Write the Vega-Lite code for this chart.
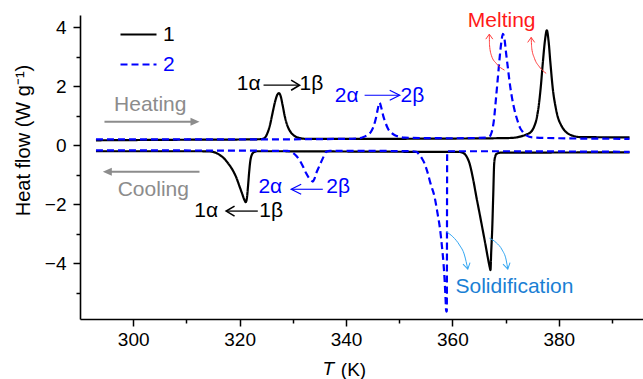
{
  "$schema": "https://vega.github.io/schema/vega-lite/v6.json",
  "width": 563,
  "height": 304,
  "autosize": "none",
  "padding": {"left": 80, "top": 15, "right": 0, "bottom": 60},
  "background": "white",
  "config": {
    "font": "Liberation Sans",
    "view": {"stroke": null},
    "axis": {
      "grid": false,
      "domainColor": "#000000",
      "domainWidth": 1.6,
      "tickColor": "#000000",
      "tickWidth": 1.5,
      "labelColor": "#000000",
      "labelFontSize": 19,
      "labelOverlap": false,
      "titleFontSize": 19,
      "titleFontWeight": "normal",
      "titleColor": "#000000"
    }
  },
  "resolve": {"axis": {"y": "independent"}},
  "datasets": {
    "curves": [
      {"s":"1","r":"h","T":293,"hf":0.17},{"s":"1","r":"h","T":310,"hf":0.19},{"s":"1","r":"h","T":322,"hf":0.2},{"s":"1","r":"h","T":324.0,"hf":0.21},{"s":"1","r":"h","T":324.7,"hf":0.25},{"s":"1","r":"h","T":325.2,"hf":0.4},{"s":"1","r":"h","T":325.7,"hf":0.68},{"s":"1","r":"h","T":326.2,"hf":1.1},{"s":"1","r":"h","T":326.7,"hf":1.5},{"s":"1","r":"h","T":327.1,"hf":1.72},{"s":"1","r":"h","T":327.4,"hf":1.77},{"s":"1","r":"h","T":327.7,"hf":1.68},{"s":"1","r":"h","T":328.1,"hf":1.35},{"s":"1","r":"h","T":328.5,"hf":0.98},{"s":"1","r":"h","T":329.0,"hf":0.66},{"s":"1","r":"h","T":329.6,"hf":0.45},{"s":"1","r":"h","T":330.3,"hf":0.32},{"s":"1","r":"h","T":331.2,"hf":0.25},{"s":"1","r":"h","T":332.5,"hf":0.22},{"s":"1","r":"h","T":345,"hf":0.22},{"s":"1","r":"h","T":360,"hf":0.23},{"s":"1","r":"h","T":368,"hf":0.24},{"s":"1","r":"h","T":371,"hf":0.25},{"s":"1","r":"h","T":373.2,"hf":0.32},{"s":"1","r":"h","T":374.3,"hf":0.4},{"s":"1","r":"h","T":374.8,"hf":0.46},{"s":"1","r":"h","T":375.4,"hf":0.65},{"s":"1","r":"h","T":375.8,"hf":0.88},{"s":"1","r":"h","T":376.2,"hf":1.3},{"s":"1","r":"h","T":376.6,"hf":1.95},{"s":"1","r":"h","T":377.0,"hf":2.8},{"s":"1","r":"h","T":377.4,"hf":3.55},{"s":"1","r":"h","T":377.75,"hf":3.9},{"s":"1","r":"h","T":378.1,"hf":3.5},{"s":"1","r":"h","T":378.4,"hf":2.85},{"s":"1","r":"h","T":378.9,"hf":1.88},{"s":"1","r":"h","T":379.4,"hf":1.3},{"s":"1","r":"h","T":379.8,"hf":0.97},{"s":"1","r":"h","T":380.4,"hf":0.7},{"s":"1","r":"h","T":381.1,"hf":0.5},{"s":"1","r":"h","T":381.9,"hf":0.38},{"s":"1","r":"h","T":382.7,"hf":0.32},{"s":"1","r":"h","T":384,"hf":0.28},{"s":"1","r":"h","T":393.3,"hf":0.27},
      {"s":"1","r":"c","T":293,"hf":-0.2},{"s":"1","r":"c","T":312,"hf":-0.2},{"s":"1","r":"c","T":314.5,"hf":-0.21},{"s":"1","r":"c","T":315.5,"hf":-0.25},{"s":"1","r":"c","T":316.3,"hf":-0.33},{"s":"1","r":"c","T":317.0,"hf":-0.43},{"s":"1","r":"c","T":317.8,"hf":-0.6},{"s":"1","r":"c","T":318.7,"hf":-0.84},{"s":"1","r":"c","T":319.4,"hf":-1.1},{"s":"1","r":"c","T":320.0,"hf":-1.4},{"s":"1","r":"c","T":320.5,"hf":-1.65},{"s":"1","r":"c","T":320.9,"hf":-1.85},{"s":"1","r":"c","T":321.15,"hf":-1.93},{"s":"1","r":"c","T":321.4,"hf":-1.75},{"s":"1","r":"c","T":321.6,"hf":-1.35},{"s":"1","r":"c","T":321.8,"hf":-0.9},{"s":"1","r":"c","T":322.0,"hf":-0.55},{"s":"1","r":"c","T":322.3,"hf":-0.32},{"s":"1","r":"c","T":322.7,"hf":-0.23},{"s":"1","r":"c","T":323.3,"hf":-0.2},{"s":"1","r":"c","T":340,"hf":-0.21},{"s":"1","r":"c","T":355,"hf":-0.22},{"s":"1","r":"c","T":361.0,"hf":-0.22},{"s":"1","r":"c","T":361.9,"hf":-0.25},{"s":"1","r":"c","T":362.6,"hf":-0.36},{"s":"1","r":"c","T":363.2,"hf":-0.6},{"s":"1","r":"c","T":363.9,"hf":-1.15},{"s":"1","r":"c","T":364.5,"hf":-1.74},{"s":"1","r":"c","T":365.1,"hf":-2.3},{"s":"1","r":"c","T":365.7,"hf":-2.87},{"s":"1","r":"c","T":366.2,"hf":-3.35},{"s":"1","r":"c","T":366.65,"hf":-3.8},{"s":"1","r":"c","T":367.0,"hf":-4.12},{"s":"1","r":"c","T":367.16,"hf":-4.23},{"s":"1","r":"c","T":367.3,"hf":-3.6},{"s":"1","r":"c","T":367.48,"hf":-2.87},{"s":"1","r":"c","T":367.67,"hf":-1.74},{"s":"1","r":"c","T":367.86,"hf":-0.61},{"s":"1","r":"c","T":368.05,"hf":-0.38},{"s":"1","r":"c","T":368.3,"hf":-0.29},{"s":"1","r":"c","T":369,"hf":-0.25},{"s":"1","r":"c","T":393.3,"hf":-0.24},
      {"s":"2","r":"h","T":293,"hf":0.2},{"s":"2","r":"h","T":320,"hf":0.2},{"s":"2","r":"h","T":340,"hf":0.22},{"s":"2","r":"h","T":342.5,"hf":0.24},{"s":"2","r":"h","T":343.3,"hf":0.28},{"s":"2","r":"h","T":344.0,"hf":0.35},{"s":"2","r":"h","T":344.7,"hf":0.46},{"s":"2","r":"h","T":345.2,"hf":0.65},{"s":"2","r":"h","T":345.6,"hf":0.9},{"s":"2","r":"h","T":346.0,"hf":1.25},{"s":"2","r":"h","T":346.3,"hf":1.45},{"s":"2","r":"h","T":346.6,"hf":1.3},{"s":"2","r":"h","T":347.0,"hf":1.0},{"s":"2","r":"h","T":347.5,"hf":0.73},{"s":"2","r":"h","T":347.9,"hf":0.56},{"s":"2","r":"h","T":348.5,"hf":0.43},{"s":"2","r":"h","T":349.1,"hf":0.35},{"s":"2","r":"h","T":350.0,"hf":0.29},{"s":"2","r":"h","T":351,"hf":0.26},{"s":"2","r":"h","T":360,"hf":0.24},{"s":"2","r":"h","T":366.3,"hf":0.26},{"s":"2","r":"h","T":367.0,"hf":0.3},{"s":"2","r":"h","T":367.4,"hf":0.45},{"s":"2","r":"h","T":367.8,"hf":0.85},{"s":"2","r":"h","T":368.2,"hf":1.6},{"s":"2","r":"h","T":368.6,"hf":2.4},{"s":"2","r":"h","T":368.9,"hf":3.0},{"s":"2","r":"h","T":369.2,"hf":3.5},{"s":"2","r":"h","T":369.5,"hf":3.78},{"s":"2","r":"h","T":369.8,"hf":3.6},{"s":"2","r":"h","T":370.1,"hf":3.12},{"s":"2","r":"h","T":370.45,"hf":2.6},{"s":"2","r":"h","T":370.75,"hf":2.15},{"s":"2","r":"h","T":371.2,"hf":1.62},{"s":"2","r":"h","T":371.7,"hf":1.18},{"s":"2","r":"h","T":372.2,"hf":0.86},{"s":"2","r":"h","T":372.7,"hf":0.6},{"s":"2","r":"h","T":373.3,"hf":0.44},{"s":"2","r":"h","T":373.9,"hf":0.34},{"s":"2","r":"h","T":375.1,"hf":0.27},{"s":"2","r":"h","T":380,"hf":0.24},{"s":"2","r":"h","T":393.3,"hf":0.22},
      {"s":"2","r":"c","T":293,"hf":-0.17},{"s":"2","r":"c","T":320,"hf":-0.18},{"s":"2","r":"c","T":329.0,"hf":-0.19},{"s":"2","r":"c","T":329.7,"hf":-0.22},{"s":"2","r":"c","T":330.5,"hf":-0.33},{"s":"2","r":"c","T":331.26,"hf":-0.5},{"s":"2","r":"c","T":332.0,"hf":-0.75},{"s":"2","r":"c","T":332.52,"hf":-0.95},{"s":"2","r":"c","T":333.0,"hf":-1.1},{"s":"2","r":"c","T":333.46,"hf":-1.19},{"s":"2","r":"c","T":333.76,"hf":-1.23},{"s":"2","r":"c","T":334.1,"hf":-1.12},{"s":"2","r":"c","T":334.4,"hf":-0.95},{"s":"2","r":"c","T":334.9,"hf":-0.74},{"s":"2","r":"c","T":335.34,"hf":-0.56},{"s":"2","r":"c","T":335.8,"hf":-0.38},{"s":"2","r":"c","T":336.28,"hf":-0.22},{"s":"2","r":"c","T":337,"hf":-0.19},{"s":"2","r":"c","T":345,"hf":-0.19},{"s":"2","r":"c","T":352.5,"hf":-0.2},{"s":"2","r":"c","T":353.2,"hf":-0.22},{"s":"2","r":"c","T":353.8,"hf":-0.32},{"s":"2","r":"c","T":354.3,"hf":-0.45},{"s":"2","r":"c","T":354.76,"hf":-0.61},{"s":"2","r":"c","T":355.3,"hf":-0.9},{"s":"2","r":"c","T":355.9,"hf":-1.3},{"s":"2","r":"c","T":356.64,"hf":-1.74},{"s":"2","r":"c","T":357.2,"hf":-2.3},{"s":"2","r":"c","T":357.7,"hf":-2.87},{"s":"2","r":"c","T":358.05,"hf":-3.45},{"s":"2","r":"c","T":358.33,"hf":-4.0},{"s":"2","r":"c","T":358.55,"hf":-4.6},{"s":"2","r":"c","T":358.7,"hf":-5.13},{"s":"2","r":"c","T":358.84,"hf":-5.64},{"s":"2","r":"c","T":358.95,"hf":-5.62},{"s":"2","r":"c","T":359.02,"hf":-0.2},{"s":"2","r":"c","T":365,"hf":-0.2},{"s":"2","r":"c","T":393.3,"hf":-0.22}
    ]
  },
  "layer": [
    {
      "data": {"name": "curves"},
      "mark": {"type": "line", "strokeWidth": 2.2, "interpolate": "monotone"},
      "encoding": {
        "x": {"field": "T", "type": "quantitative",
          "scale": {"domain": [290, 395.83], "nice": false, "zero": false},
          "axis": {"title": "(K)", "values": [300,310,320,330,340,350,360,370,380,390],
            "labelExpr": "abs(round(datum.value)) % 20 == 0 ? datum.label : ''",
            "tickSize": {"condition": {"test": "abs(round(datum.value)) % 20 == 0", "value": 7}, "value": 4},
            "labelPadding": 4, "titleX": 273, "titleY": 56, "titleBaseline": "alphabetic"}},
        "y": {"field": "hf", "type": "quantitative",
          "scale": {"domain": [-5.89, 4.42], "nice": false, "zero": false},
          "axis": {"orient": "left", "title": "Heat flow (W g⁻¹)", "values": [-4,-2,0,2,4],
            "tickSize": 7, "labelPadding": 7,
            "titleX": -51, "titleY": 125, "titleBaseline": "alphabetic", "titleAngle": -90, "titleFontSize": 20}},
        "color": {"field": "s", "type": "nominal",
          "scale": {"domain": ["1","2"], "range": ["#000000","#0000ff"]},
          "legend": {"title": null, "orient": "none", "legendX": 39, "legendY": 0, "symbolType": "stroke", "symbolSize": 1296, "symbolStrokeWidth": 2.2, "labelFontSize": 21, "labelOffset": 5, "rowPadding": -7, "padding": 0,
            "labelColor": {"expr": "datum.label === '2' ? '#0000ff' : '#000000'"}}},
        "strokeDash": {"field": "s", "type": "nominal",
          "scale": {"domain": ["1","2"], "range": [[1,0],[7,4]]},
          "legend": {"title": null, "orient": "none", "legendX": 39, "legendY": 0, "symbolType": "stroke", "symbolSize": 1296, "symbolStrokeWidth": 2.2, "labelFontSize": 21, "labelOffset": 5, "rowPadding": -7, "padding": 0,
            "labelColor": {"expr": "datum.label === '2' ? '#0000ff' : '#000000'"}}},
        "detail": {"field": "r"}
      }
    },
    {
      "data": {"values": [{"label": "Heating", "T": 303.2, "hf": 1.17}, {"label": "Cooling", "T": 303.78, "hf": -1.72}]},
      "mark": {"type": "text", "fontSize": 21, "color": "#8c8c8c", "align": "center", "baseline": "alphabetic"},
      "encoding": {"x": {"field": "T", "type": "quantitative"},
        "y": {"field": "hf", "type": "quantitative",
          "axis": {"orient": "left", "title": null, "values": [-5,-3,-1,1,3], "labels": false, "tickSize": 4, "domain": false}},
        "text": {"field": "label"}}
    },
    {
      "data": {"values": [{"label": "T", "T": 336.67, "hf": -7.79}]},
      "mark": {"type": "text", "fontSize": 19, "fontStyle": "italic", "color": "#000000", "align": "center", "baseline": "alphabetic", "clip": false},
      "encoding": {"x": {"field": "T", "type": "quantitative"}, "y": {"field": "hf", "type": "quantitative", "axis": null}, "text": {"field": "label"}}
    },
    {
      "data": {"values": [{"T": 294.6, "T2": 311.4, "hf": 0.8}, {"T": 295.3, "T2": 312.46, "hf": -0.895}]},
      "mark": {"type": "rule", "strokeWidth": 2, "color": "#8c8c8c"},
      "encoding": {"x": {"field": "T", "type": "quantitative"}, "x2": {"field": "T2"}, "y": {"field": "hf", "type": "quantitative", "axis": null}}
    },
    {
      "data": {"values": [{"T": 312.46, "hf": 0.8}]},
      "mark": {"type": "point", "shape": "M0,0L-1,-0.45L-1,0.45Z", "filled": true, "size": 324, "color": "#8c8c8c", "opacity": 1},
      "encoding": {"x": {"field": "T", "type": "quantitative"}, "y": {"field": "hf", "type": "quantitative", "axis": null}}
    },
    {
      "data": {"values": [{"T": 294.29, "hf": -0.895}]},
      "mark": {"type": "point", "shape": "M0,0L1,-0.45L1,0.45Z", "filled": true, "size": 324, "color": "#8c8c8c", "opacity": 1},
      "encoding": {"x": {"field": "T", "type": "quantitative"}, "y": {"field": "hf", "type": "quantitative", "axis": null}}
    },
    {
      "data": {"values": [{"label": "1α", "T": 321.71, "hf": 1.87}, {"label": "1β", "T": 333.5, "hf": 1.87}, {"label": "1α", "T": 313.72, "hf": -2.42}, {"label": "1β", "T": 325.94, "hf": -2.42}]},
      "mark": {"type": "text", "fontSize": 21, "color": "#000000", "align": "center", "baseline": "alphabetic"},
      "encoding": {"x": {"field": "T", "type": "quantitative"}, "y": {"field": "hf", "type": "quantitative", "axis": null}, "text": {"field": "label"}}
    },
    {
      "data": {"values": [{"T": 324.5, "T2": 331.1, "hf": 2.04}, {"T": 317.6, "T2": 323.42, "hf": -2.23}]},
      "mark": {"type": "rule", "strokeWidth": 1.3, "color": "#000000"},
      "encoding": {"x": {"field": "T", "type": "quantitative"}, "x2": {"field": "T2"}, "y": {"field": "hf", "type": "quantitative", "axis": null}}
    },
    {
      "data": {"values": [{"T": 331.26, "hf": 2.04}]},
      "mark": {"type": "point", "shape": "M-1,-0.6L0,0L-1,0.6", "filled": false, "size": 280, "color": "#000000", "strokeWidth": 1.6, "opacity": 1},
      "encoding": {"x": {"field": "T", "type": "quantitative"}, "y": {"field": "hf", "type": "quantitative", "axis": null}}
    },
    {
      "data": {"values": [{"T": 317.48, "hf": -2.23}]},
      "mark": {"type": "point", "shape": "M1,-0.6L0,0L1,0.6", "filled": false, "size": 280, "color": "#000000", "strokeWidth": 1.6, "opacity": 1},
      "encoding": {"x": {"field": "T", "type": "quantitative"}, "y": {"field": "hf", "type": "quantitative", "axis": null}}
    },
    {
      "data": {"values": [{"label": "2α", "T": 340.13, "hf": 1.48}, {"label": "2β", "T": 352.47, "hf": 1.48}, {"label": "2α", "T": 325.77, "hf": -1.63}, {"label": "2β", "T": 338.53, "hf": -1.63}]},
      "mark": {"type": "text", "fontSize": 21, "color": "#0000ff", "align": "center", "baseline": "alphabetic"},
      "encoding": {"x": {"field": "T", "type": "quantitative"}, "y": {"field": "hf", "type": "quantitative", "axis": null}, "text": {"field": "label"}}
    },
    {
      "data": {"values": [{"T": 343.5, "T2": 350.0, "hf": 1.7}, {"T": 329.8, "T2": 335.64, "hf": -1.49}]},
      "mark": {"type": "rule", "strokeWidth": 1.1, "color": "#0000ff"},
      "encoding": {"x": {"field": "T", "type": "quantitative"}, "x2": {"field": "T2"}, "y": {"field": "hf", "type": "quantitative", "axis": null}}
    },
    {
      "data": {"values": [{"T": 350.1, "hf": 1.7}]},
      "mark": {"type": "point", "shape": "M-1,-0.5L0,0L-1,0.5", "filled": false, "size": 400, "color": "#0000ff", "strokeWidth": 1.2, "opacity": 1},
      "encoding": {"x": {"field": "T", "type": "quantitative"}, "y": {"field": "hf", "type": "quantitative", "axis": null}}
    },
    {
      "data": {"values": [{"T": 329.7, "hf": -1.49}]},
      "mark": {"type": "point", "shape": "M1,-0.5L0,0L1,0.5", "filled": false, "size": 400, "color": "#0000ff", "strokeWidth": 1.2, "opacity": 1},
      "encoding": {"x": {"field": "T", "type": "quantitative"}, "y": {"field": "hf", "type": "quantitative", "axis": null}}
    },
    {
      "data": {"values": [{"label": "Melting", "T": 369.26, "hf": 4.0}]},
      "mark": {"type": "text", "fontSize": 21, "color": "#ff1a1a", "align": "center", "baseline": "alphabetic"},
      "encoding": {"x": {"field": "T", "type": "quantitative"}, "y": {"field": "hf", "type": "quantitative", "axis": null}, "text": {"field": "label"}}
    },
    {
      "data": {"values": [
        {"a": "m1", "T": 369.79, "hf": 2.55}, {"a": "m1", "T": 368.29, "hf": 2.77}, {"a": "m1", "T": 367.35, "hf": 3.04}, {"a": "m1", "T": 366.98, "hf": 3.4}, {"a": "m1", "T": 366.94, "hf": 3.77},
        {"a": "m2", "T": 377.63, "hf": 2.44}, {"a": "m2", "T": 376.37, "hf": 2.66}, {"a": "m2", "T": 375.43, "hf": 2.95}, {"a": "m2", "T": 374.92, "hf": 3.29}, {"a": "m2", "T": 374.81, "hf": 3.66}
      ]},
      "mark": {"type": "line", "strokeWidth": 1, "color": "#ff3b3b", "interpolate": "monotone"},
      "encoding": {"x": {"field": "T", "type": "quantitative"}, "y": {"field": "hf", "type": "quantitative", "axis": null}, "detail": {"field": "a"}}
    },
    {
      "data": {"values": [{"T": 366.94, "hf": 3.77}, {"T": 374.81, "hf": 3.66}]},
      "mark": {"type": "point", "shape": "M-0.7,1L0,0L0.7,1", "filled": false, "size": 100, "color": "#ff3b3b", "strokeWidth": 1, "opacity": 1},
      "encoding": {"x": {"field": "T", "type": "quantitative"}, "y": {"field": "hf", "type": "quantitative", "axis": null}}
    },
    {
      "data": {"values": [{"label": "Solidification", "T": 371.67, "hf": -5.0}]},
      "mark": {"type": "text", "fontSize": 21, "color": "#1a7fd4", "align": "center", "baseline": "alphabetic"},
      "encoding": {"x": {"field": "T", "type": "quantitative"}, "y": {"field": "hf", "type": "quantitative", "axis": null}, "text": {"field": "label"}}
    },
    {
      "data": {"values": [
        {"a": "s1", "T": 358.83, "hf": -2.93}, {"a": "s1", "T": 360.08, "hf": -3.1}, {"a": "s1", "T": 361.33, "hf": -3.38}, {"a": "s1", "T": 362.27, "hf": -3.72}, {"a": "s1", "T": 362.89, "hf": -4.2},
        {"a": "s2", "T": 366.97, "hf": -3.15}, {"a": "s2", "T": 368.23, "hf": -3.3}, {"a": "s2", "T": 369.36, "hf": -3.55}, {"a": "s2", "T": 370.11, "hf": -3.89}, {"a": "s2", "T": 370.41, "hf": -4.2}
      ]},
      "mark": {"type": "line", "strokeWidth": 1, "color": "#33a6f2", "interpolate": "monotone"},
      "encoding": {"x": {"field": "T", "type": "quantitative"}, "y": {"field": "hf", "type": "quantitative", "axis": null}, "detail": {"field": "a"}}
    },
    {
      "data": {"values": [{"T": 362.89, "hf": -4.2}, {"T": 370.41, "hf": -4.2}]},
      "mark": {"type": "point", "shape": "M-0.6,-1L0,0L0.6,-1", "filled": false, "size": 144, "color": "#33a6f2", "strokeWidth": 1, "angle": -12, "opacity": 1},
      "encoding": {"x": {"field": "T", "type": "quantitative"}, "y": {"field": "hf", "type": "quantitative", "axis": null}}
    }
  ]
}
